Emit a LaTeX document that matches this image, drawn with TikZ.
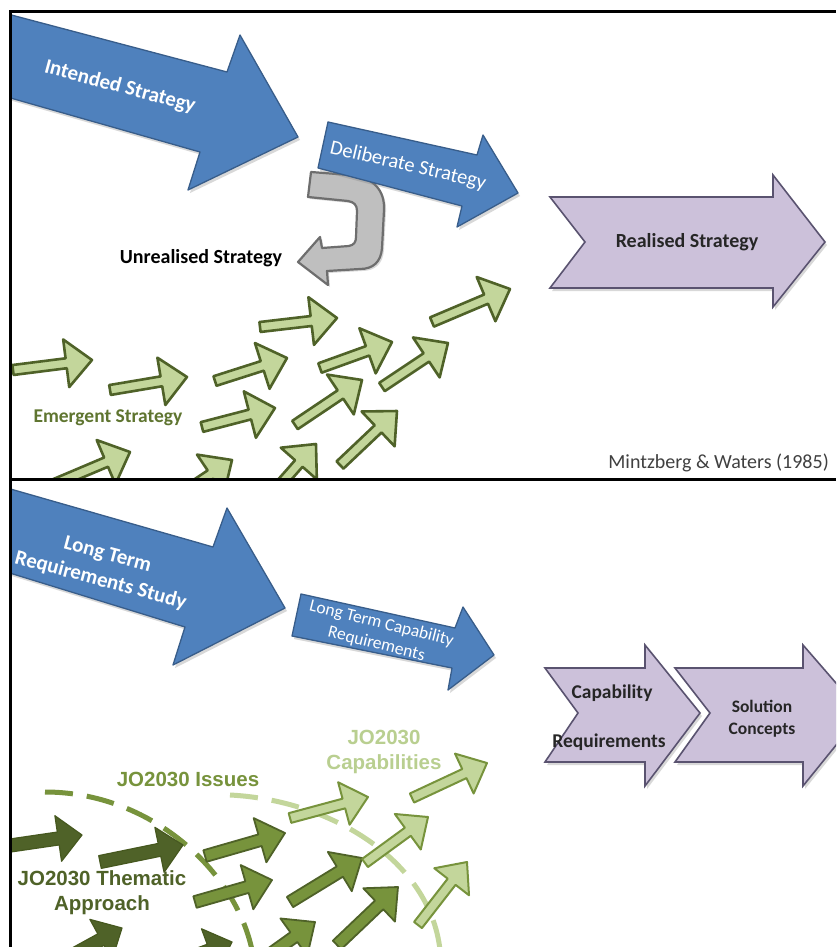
\documentclass[tikz,border=0pt]{standalone}
\usepackage{fontspec}
\setmainfont{Carlito}
\newfontfamily\arialf{Liberation Sans}
\usetikzlibrary{shadows}
\definecolor{blueF}{HTML}{4F81BD}
\definecolor{blueD}{HTML}{385D8A}
\definecolor{purF}{HTML}{CCC1DA}
\definecolor{purD}{HTML}{5A5370}
\definecolor{grF}{HTML}{BFBFBF}
\definecolor{grD}{HTML}{6E6E6E}
\definecolor{gLt}{HTML}{C3D69B}
\definecolor{gMd}{HTML}{77933C}
\definecolor{gDk}{HTML}{4F6228}
\definecolor{gDkr}{HTML}{46581F}
\definecolor{gTxt}{HTML}{5F7530}
\definecolor{capTxt}{HTML}{B9CF90}
\definecolor{issTxt}{HTML}{77933C}
\definecolor{citeTxt}{HTML}{404040}
\newcommand\gsw{5}\newcommand\ghl{26}\newcommand\ghw{24}
\newcommand\garr[5][]{%
  \pgfmathsetmacro\gdx{#4-(#2)}%
  \pgfmathsetmacro\gdy{#5-(#3)}%
  \pgfmathsetmacro\glen{veclen(\gdx,\gdy)}%
  \pgfmathsetmacro\gang{-atan2(\gdy,\gdx)}%
  \pgfmathsetmacro\gbase{\glen-\ghl}%
  \draw[#1,shift={(#2,#3)},rotate=\gang] (0,-\gsw) -- (\gbase,-\gsw) -- (\gbase,-\ghw) -- (\glen,0) -- (\gbase,\ghw) -- (\gbase,\gsw) -- (0,\gsw) -- cycle;}
\begin{document}
\begin{tikzpicture}[x=1pt,y=-1pt,
  bluearr/.style={fill=blueF, draw=blueD, line width=1.3pt, line join=round,
     drop shadow={shadow xshift=2pt, shadow yshift=-3pt, opacity=0.3}},
  purarr/.style={fill=purF, draw=purD, line width=1.6pt, line join=miter,
     drop shadow={shadow xshift=2pt, shadow yshift=-3pt, opacity=0.3}},
  grarr/.style={fill=grF, draw=grD, line width=2.2pt, line join=round,
     drop shadow={shadow xshift=2pt, shadow yshift=-2pt, opacity=0.3}},
  gA/.style={fill=gLt, draw=gDk, line width=2.6pt, line join=round},
  bDk/.style={fill=gDk, draw=gDkr, line width=1.2pt, line join=round},
  bMd/.style={fill=gMd, draw=gDk, line width=1.8pt, line join=round},
  bLt/.style={fill=gLt, draw=gMd, line width=2pt, line join=round},
  frame/.style={line width=3pt, draw=black},
  txtB/.style={inner sep=0pt, font=\bfseries\fontsize{20}{24}\selectfont},
  txtR/.style={inner sep=0pt, font=\fontsize{20}{24}\selectfont},
  txtA/.style={inner sep=0pt, align=center, font=\arialf\bfseries\fontsize{20.5}{25}\selectfont},
  dashc/.style={line width=5pt, dash pattern=on 28pt off 14pt}]
\useasboundingbox (0,0) rectangle (836,947);
\fill[white] (0,0) rectangle (836,947);

% ================= TOP PANEL =================
\begin{scope}
\clip (10,12) rectangle (836,479);
% emergent arrows
\garr[gA]{13}{370}{92}{360}
\garr[gA]{110}{390}{187}{377}
\garr[gA]{215}{381}{287}{358}
\garr[gA]{260}{327}{337}{318}
\garr[gA]{320}{368}{392}{342}
\garr[gA]{432}{322}{510}{289}
\garr[gA]{382}{387}{448}{343}
\garr[gA]{202}{427}{275}{408}
\garr[gA]{295}{425}{362}{380}
\garr[gA]{340}{465}{397}{411}
\garr[gA]{45}{488}{130}{452}
\garr[gA]{180}{495}{232}{460}
\garr[gA]{272}{494}{316}{444}
% intended strategy
\draw[bluearr] (0,12) -- (227,72) -- (240,35) -- (298,137) -- (188,190) -- (200,152) -- (0,95) -- cycle;
% unrealised (gray hook)
\draw[grarr] (311,172) -- (350,175) .. controls (373,177) and (385,190) .. (384,210)
  -- (382,248) .. controls (381,262) and (373,269) .. (360,269) -- (327,271) -- (328,285)
  -- (298,262) -- (320,237) -- (322,248) -- (349,246) .. controls (354,245) and (356,242) .. (356,237)
  -- (357,211) .. controls (357,205) and (354,202) .. (348,201) -- (308,197) -- cycle;
% deliberate strategy
\draw[bluearr] (328,122) -- (477,155) -- (483,135) -- (518,193) -- (457,227) -- (462,206) -- (318,168) -- cycle;
% realised strategy
\draw[purarr] (550,197) -- (773,197) -- (773,175) -- (825,242) -- (773,307) -- (773,288) -- (550,288) -- (585,242) -- cycle;
\end{scope}

\node[txtB, text=white, rotate=-15, font=\bfseries\fontsize{21}{25}\selectfont] (tIS) at (120,87) {Intended Strategy};
\node[txtR, text=white, rotate=-13, font=\fontsize{20.5}{24}\selectfont] (tDS) at (408,166) {Deliberate Strategy};
\node[txtB, text=black] (tUS) at (201,258) {Unrealised Strategy};
\node[txtB, text=black!85] (tRS) at (687,242) {Realised Strategy};
\node[txtB, text=gTxt, font=\bfseries\fontsize{19.5}{24}\selectfont] (tES) at (108,418) {Emergent Strategy};
\node[txtR, text=citeTxt, anchor=east] (tMW) at (829,463) {Mintzberg \& Waters (1985)};

% ================= BOTTOM PANEL =================
\begin{scope}
\clip (10,479) rectangle (836,947);
\draw[dashc, gMd] (45,792) .. controls (150,792) and (235,870) .. (252,950);
\draw[dashc, gLt] (230,795) .. controls (330,800) and (430,860) .. (440,950);
\def\gsw{6.5}\def\ghl{24}\def\ghw{23}
\garr[bDk]{0}{847}{82}{835}
\garr[bDk]{100}{862}{183}{845}
\garr[bDk]{60}{962}{122}{928}
\garr[bDk]{170}{965}{232}{942}
\def\gsw{6}\def\ghl{26}\def\ghw{23}
\garr[bMd]{205}{856}{285}{833}
\garr[bMd]{195}{902}{272}{880}
\garr[bMd]{290}{902}{362}{858}
\garr[bMd]{262}{960}{315}{922}
\garr[bMd]{337}{945}{398}{887}
\def\gsw{5}\def\ghl{25}\def\ghw{22}
\garr[bLt]{290}{818}{368}{797}
\garr[bLt]{412}{798}{487}{763}
\garr[bLt]{365}{863}{428}{817}
\garr[bLt]{418}{925}{467}{862}
% long term requirements study
\draw[bluearr] (0,486) -- (213,547) -- (227,508) -- (285,608) -- (173,665) -- (185,627) -- (0,570) -- cycle;
% long term capability requirements
\draw[bluearr] (301,594) -- (455,628) -- (463,607) -- (494,655) -- (448,690) -- (452,668) -- (292,636) -- cycle;
% capability requirements chevron
\draw[purarr] (545,668) -- (645,668) -- (645,645) -- (700,713) -- (645,786) -- (645,762) -- (545,762) -- (578,713) -- cycle;
% solution concepts chevron
\draw[purarr] (675,668) -- (803,668) -- (803,645) -- (862,713) -- (803,786) -- (803,762) -- (675,762) -- (710,713) -- cycle;
\end{scope}

\node[txtB, text=white, rotate=-15, align=center, font=\bfseries\fontsize{21}{27}\selectfont] (tLT) at (104,568) {Long Term\\Requirements Study};
\node[txtR, text=white, rotate=-14, align=center, font=\fontsize{17.5}{21}\selectfont] (tLC) at (379,634) {Long Term Capability\\Requirements};
\node[txtB, text=black!85, font=\bfseries\fontsize{19.5}{24}\selectfont] (tCap) at (612,693) {Capability};
\node[txtB, text=black!85, font=\bfseries\fontsize{19.5}{24}\selectfont] (tReq) at (609,742) {Requirements};
\node[txtB, text=black!85, align=center, font=\bfseries\fontsize{17.5}{22}\selectfont] (tSC) at (762,719) {Solution\\Concepts};
\node[txtA, text=capTxt] (tJC) at (384,752) {JO2030\\Capabilities};
\node[txtA, text=issTxt] (tJI) at (188,779) {JO2030 Issues};
\node[txtA, text=gDk] (tJT) at (102,893) {JO2030 Thematic\\Approach};

% frames
\draw[frame] (10,947) -- (10,12) -- (836,12);
\draw[frame] (10,479) -- (836,479);
\end{tikzpicture}
\end{document}
